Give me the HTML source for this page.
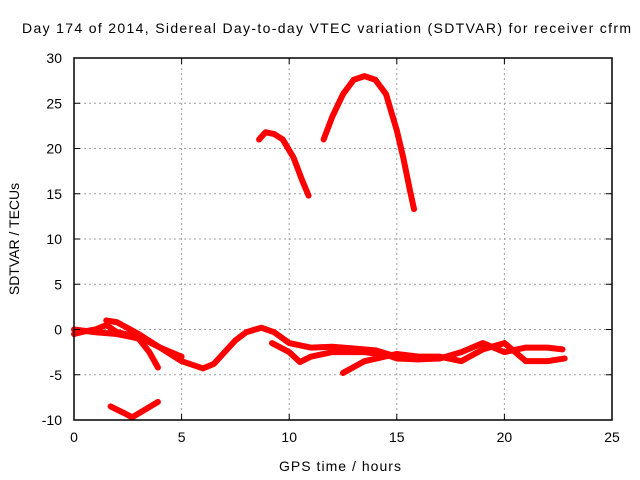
<!DOCTYPE html>
<html><head><meta charset="utf-8"><style>
body{margin:0;background:#fff}
svg{display:block;font-family:"Liberation Sans",sans-serif}
</style></head><body>
<svg id="chart" width="640" height="480">
<text x="22" y="33" font-size="14" textLength="609" lengthAdjust="spacing">Day 174 of 2014, Sidereal Day-to-day VTEC variation (SDTVAR) for receiver cfrm</text>
<text x="340" y="471" text-anchor="middle" font-size="14" textLength="122">GPS time / hours</text>
<text transform="translate(19,239) rotate(-90)" text-anchor="middle" font-size="14">SDTVAR / TECUs</text>
<g id="grid"></g><g id="series"></g><g id="axes"></g>
</svg>
<script>
const xTicks=[0,5,10,15,20,25];
const yTicks=[-10,-5,0,5,10,15,20,25,30];
const seriesMain=[[0,-0.5],[0.5,-0.2],[1,0],[1.5,0.5],[2,-0.3],[3,-0.8],[4,-2],[5,-3.5],[6,-4.3],[6.5,-3.8],[7,-2.5],[7.5,-1.2],[8,-0.3],[8.7,0.2],[9.3,-0.3],[10,-1.5],[11,-2.0],[12,-1.9],[13,-2.1],[14,-2.3],[15,-3.0],[16,-3.3],[17,-3.2],[18,-2.5],[19,-1.5],[20,-2.5],[21,-2.0],[22,-2.0],[22.7,-2.2]];
const seriesB=[[0,0],[1,-0.3],[2,-0.5],[3,-1],[3.5,-2.5],[3.9,-4.2]];
const seriesC=[[1.5,1.0],[2,0.8],[3,-0.5],[4,-2],[5,-3]];
const seriesD=[[9.2,-1.5],[10,-2.5],[10.5,-3.6],[11,-3],[12,-2.5],[13.5,-2.5],[14.5,-2.8],[15,-3.2],[16,-3.3]];
const seriesE=[[12.5,-4.8],[13.5,-3.5],[15,-2.7],[16,-3.0],[17,-3.0],[18,-3.5],[19,-2.2],[20,-1.5],[21,-3.5],[22,-3.5],[22.8,-3.2]];
const seriesLow=[[1.7,-8.5],[2.3,-9.2],[2.7,-9.7],[3.2,-9],[3.9,-8.0]];
const seriesArc1=[[8.6,21.0],[8.9,21.8],[9.3,21.6],[9.7,21],[10.2,19],[10.6,16.5],[10.9,14.8]];
const seriesArc2=[[11.6,21],[12,23.5],[12.5,26],[13,27.6],[13.5,28],[14,27.6],[14.5,26],[15,22],[15.3,19],[15.6,15.5],[15.8,13.3]];
const allSeries=[seriesMain,seriesB,seriesC,seriesD,seriesE,seriesLow,seriesArc1,seriesArc2];
const X0=74,X1=612,Y0=420,Y1=58;
const sx=v=>X0+(v-0)/25*(X1-X0);
const sy=v=>Y0-(v+10)/40*(Y0-Y1);
const NS="http://www.w3.org/2000/svg";
function mk(t,a,p){const e=document.createElementNS(NS,t);for(const k in a)e.setAttribute(k,a[k]);p.appendChild(e);return e;}
const grid=document.getElementById('grid'),axes=document.getElementById('axes'),ser=document.getElementById('series');
xTicks.forEach(t=>{const x=sx(t);
 if(t>0&&t<25){const l=mk('line',{x1:x,y1:Y1,x2:x,y2:Y0,stroke:'#a0a0a0','stroke-dasharray':'2,3'},grid);}
 mk('line',{x1:x,y1:Y0,x2:x,y2:Y0-6,stroke:'#000'},axes);mk('line',{x1:x,y1:Y1,x2:x,y2:Y1+6,stroke:'#000'},axes);
 const tx=mk('text',{x:x,y:Y0+22,'text-anchor':'middle','font-size':14},axes);tx.textContent=t;
 });
yTicks.forEach(t=>{const y=sy(t);
 if(t>-10&&t<30){const l=mk('line',{x1:X0,y1:y,x2:X1,y2:y,stroke:'#a0a0a0','stroke-dasharray':'2,3'},grid);}
 mk('line',{x1:X0,y1:y,x2:X0+6,y2:y,stroke:'#000'},axes);mk('line',{x1:X1,y1:y,x2:X1-6,y2:y,stroke:'#000'},axes);
 const tx=mk('text',{x:X0-12,y:y+5,'text-anchor':'end','font-size':14},axes);tx.textContent=t;
 });
const fr=mk('rect',{x:X0,y:Y1,width:X1-X0,height:Y0-Y1,fill:'none',stroke:'#000','stroke-width':1.5},axes);

allSeries.forEach(s=>{const p=mk('polyline',{points:s.map(d=>sx(d[0])+','+sy(d[1])).join(' '),fill:'none',stroke:'#ff0000','stroke-width':6,'stroke-linejoin':'round','stroke-linecap':'round'},ser);
 });
</script>
</body></html>
